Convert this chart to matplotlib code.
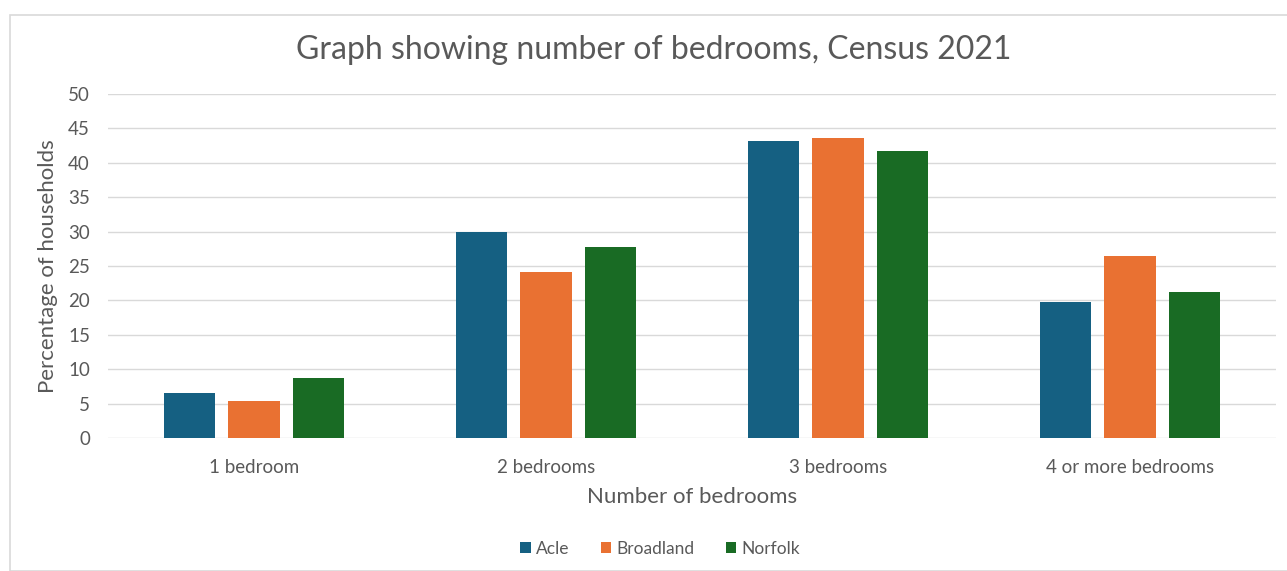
from matplotlib import pyplot as plt
from matplotlib.patches import Rectangle
import numpy as np

categories = ['1 bedroom', '2 bedrooms', '3 bedrooms', '4 or more bedrooms']
acle = [6.5, 30.0, 43.2, 19.8]
broadland = [5.4, 24.1, 43.6, 26.4]
norfolk = [8.7, 27.8, 41.7, 21.2]
series_names = ['Acle', 'Broadland', 'Norfolk']
colours = ['#156082', '#E97132', '#196B24']

plt.rcParams['font.family'] = ['Lato', 'DejaVu Sans']
grey = '#595959'

fig = plt.figure(figsize=(12.87, 5.71), dpi=100)
fig.patches.append(Rectangle((10 / 1287, 0.0), 1.0, 1 - 15 / 571, transform=fig.transFigure,
                             facecolor='none', edgecolor='#D9D9D9', linewidth=1.2, zorder=-1))
ax = fig.add_axes([108 / 1287, 1 - 438 / 571, (1276 - 108) / 1287, (438 - 94) / 571])
ax.set_facecolor('none')

x = np.arange(len(categories))
width = 0.175
step = 0.22
for i, (vals, name, col) in enumerate(zip([acle, broadland, norfolk], series_names, colours)):
    ax.bar(x + (i - 1) * step, vals, width, color=col, label=name, zorder=3)

ax.set_xlim(-0.5, 3.5)
ax.set_ylim(0, 50)
ax.set_yticks(range(0, 51, 5))
ax.yaxis.grid(True, color='#D9D9D9', linewidth=1, zorder=0)
ax.set_axisbelow(True)
for s in ax.spines.values():
    s.set_visible(False)
ax.tick_params(length=0, colors=grey, labelsize=13.5)
ax.tick_params(axis='y', pad=13)
ax.tick_params(axis='x', pad=15)
ax.set_xticks(x)
ax.set_xticklabels(categories)

ax.set_xlabel('Number of bedrooms', color=grey, fontsize=16, labelpad=8)
ax.set_ylabel('Percentage of households', color=grey, fontsize=16)
ax.yaxis.set_label_coords(-0.043, 0.5)
fig.text(654 / 1287, 1 - 50 / 571, 'Graph showing number of bedrooms, Census 2021', ha='center', va='center',
         color=grey, fontsize=23)

leg = ax.legend(loc='center', bbox_to_anchor=(660 / 1287, 1 - 549 / 571), bbox_transform=fig.transFigure,
                ncol=3, frameon=False, fontsize=12.5, handlelength=0.6, handleheight=0.6,
                handletextpad=0.3, columnspacing=1.8)
for t in leg.get_texts():
    t.set_color(grey)

fig.savefig('out.png', dpi=100)
